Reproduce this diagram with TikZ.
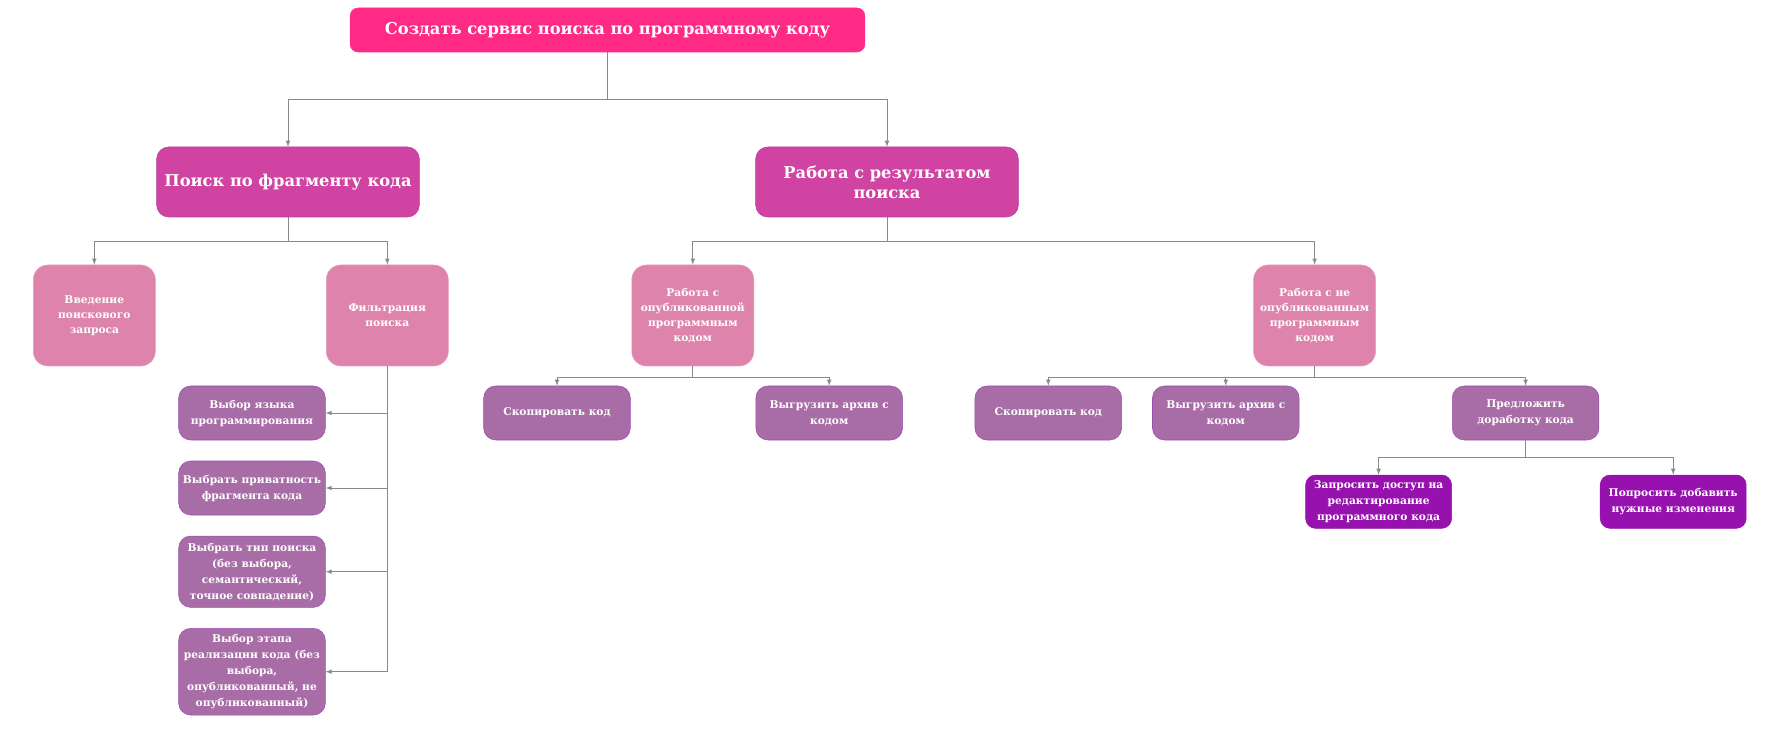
\documentclass[tikz,border=0pt]{standalone}
\usepackage{fontspec}
\setmainfont{DejaVu Serif}
\usepackage{tikz}
\usetikzlibrary{arrows}

\definecolor{rootpink}{HTML}{FF2A85}
\definecolor{onefill}{HTML}{D043A2}
\definecolor{oneline}{HTML}{B33CA6}
\definecolor{twofill}{HTML}{DE84AC}
\definecolor{twoline}{HTML}{E79BBE}
\definecolor{threefill}{HTML}{A86DA6}
\definecolor{threeline}{HTML}{9B4DB3}
\definecolor{fourfill}{HTML}{9611AE}
\definecolor{linkgray}{HTML}{8A8A8A}

\tikzset{
  every node/.style={text=white, align=center, inner sep=0pt},
  rootbox/.style={fill=rootpink, draw=rootpink, rounded corners=6pt,
    minimum width=386pt, minimum height=33pt,
    font=\bfseries\fontsize{12.2}{16}\selectfont},
  onebox/.style={fill=onefill, draw=oneline, rounded corners=9pt,
    minimum width=197pt, minimum height=52.5pt,
    font=\bfseries\fontsize{12.2}{15}\selectfont},
  twobox/.style={fill=twofill, draw=twoline, rounded corners=11pt,
    minimum width=91.5pt, minimum height=75.75pt,
    font=\bfseries\fontsize{8}{11.25}\selectfont},
  threebox/.style={fill=threefill, draw=threeline, rounded corners=9pt,
    minimum width=110pt, minimum height=40.5pt,
    font=\bfseries\fontsize{8}{12}\selectfont},
  fourbox/.style={fill=fourfill, draw=fourfill, rounded corners=7.5pt,
    minimum width=109.5pt, minimum height=40pt,
    font=\bfseries\fontsize{8}{12}\selectfont},
  link/.style={draw=linkgray, line width=0.6pt, -latex},
}

\begin{document}
\begin{tikzpicture}[x=0.75pt, y=-0.75pt]
  \fill[white] (0,0) rectangle (1769,730);
  \useasboundingbox (0,0) rectangle (1769,730);

  % top
  \node[rootbox] at (607.5,30) (root) {Создать сервис поиска по программному коду};

  % first level
  \node[onebox] at (288,182) (frag) {Поиск по фрагменту кода};
  \node[onebox] at (887,182) (result) {Работа с результатом\\поиска};

  % second level
  \node[twobox] at (94.3,315.5) (query) {Введение\\поискового\\запроса};
  \node[twobox] at (387.3,315.5) (filter) {Фильтрация\\поиска};
  \node[twobox] at (692.8,315.5) (pub) {Работа с\\опубликованной\\программным\\кодом};
  \node[twobox] at (1314.6,315.5) (unpub) {Работа с не\\опубликованным\\программным\\кодом};

  % filters
  \node[threebox] at (252,413) (lang) {Выбор языка\\программирования};
  \node[threebox] at (252,488) (priv) {Выбрать приватность\\фрагмента кода};
  \node[threebox, minimum height=53.5pt] at (252,571.7) (kind) {Выбрать тип поиска\\(без выбора,\\семантический,\\точное совпадение)};
  \node[threebox, minimum height=65pt] at (252,671.7) (stage) {Выбор этапа\\реализации кода (без\\выбора,\\опубликованный, не\\опубликованный)};

  % actions
  \node[threebox] at (557,413) (copyA) {Скопировать код};
  \node[threebox] at (829.2,413) (zipA) {Выгрузить архив с\\кодом};
  \node[threebox] at (1048.3,413) (copyB) {Скопировать код};
  \node[threebox] at (1225.8,413) (zipB) {Выгрузить архив с\\кодом};
  \node[threebox] at (1525.6,413) (offer) {Предложить\\доработку кода};

  % last level
  \node[fourbox] at (1378.6,501.7) (access) {Запросить доступ на\\редактирование\\программного кода};
  \node[fourbox] at (1673.2,501.7) (ask) {Попросить добавить\\нужные изменения};

  \draw[link] (root.south) -- ++(0,47) -| (frag.north);
  \draw[link] (root.south) -- ++(0,47) -| (result.north);
  \draw[link] (frag.south) -- ++(0,24) -| (query.north);
  \draw[link] (frag.south) -- ++(0,24) -| (filter.north);
  \draw[link] (result.south) -- ++(0,24) -| (pub.north);
  \draw[link] (result.south) -- ++(0,24) -| (unpub.north);
  \draw[link] (filter.south) |- (lang.east);
  \draw[link] (filter.south) |- (priv.east);
  \draw[link] (filter.south) |- (kind.east);
  \draw[link] (filter.south) |- (stage.east);
  \draw[link] (pub.south) -- ++(0,11) -| (copyA.north);
  \draw[link] (pub.south) -- ++(0,11) -| (zipA.north);
  \draw[link] (unpub.south) -- ++(0,11) -| (copyB.north);
  \draw[link] (unpub.south) -- ++(0,11) -| (zipB.north);
  \draw[link] (unpub.south) -- ++(0,11) -| (offer.north);
  \draw[link] (offer.south) -- ++(0,17.5) -| (access.north);
  \draw[link] (offer.south) -- ++(0,17.5) -| (ask.north);
\end{tikzpicture}
\end{document}
